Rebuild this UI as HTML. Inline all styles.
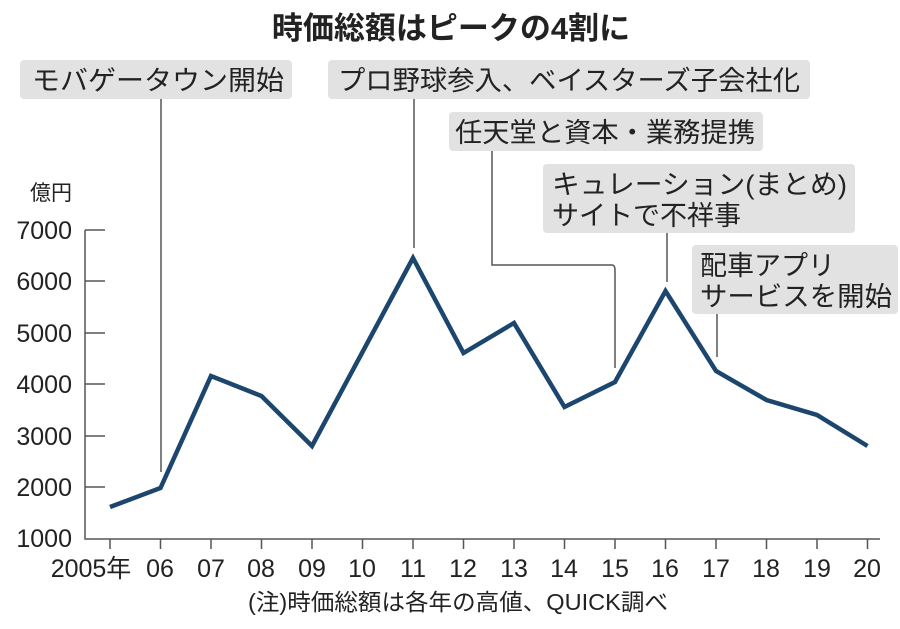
<!DOCTYPE html>
<html><head><meta charset="utf-8"><style>
body{margin:0;background:#fff;}
svg text{font-family:"Liberation Sans","Noto Sans CJK JP",sans-serif;fill:#222;}
</style></head><body>
<svg width="900" height="624" xmlns="http://www.w3.org/2000/svg">
<text x="451" y="39" font-size="31" font-weight="bold" text-anchor="middle">時価総額はピークの4割に</text>
<g fill="#e2e2e2">
<rect x="20" y="60" width="272" height="39" rx="4"/>
<rect x="328" y="60" width="482" height="39" rx="4"/>
<rect x="449" y="112" width="314" height="39" rx="4"/>
<rect x="543" y="164" width="312" height="69" rx="4"/>
<rect x="692" y="245" width="206" height="69" rx="4"/>
</g>
<g font-size="27">
<text x="32" y="90" textLength="252" lengthAdjust="spacingAndGlyphs">モバゲータウン開始</text>
<text x="338" y="90" textLength="462" lengthAdjust="spacingAndGlyphs">プロ野球参入、ベイスターズ子会社化</text>
<text x="455" y="142" textLength="300" lengthAdjust="spacingAndGlyphs">任天堂と資本・業務提携</text>
<text x="552" y="194" textLength="295" lengthAdjust="spacingAndGlyphs">キュレーション(まとめ)</text>
<text x="552" y="225">サイトで不祥事</text>
<text x="700" y="275">配車アプリ</text>
<text x="700" y="306" textLength="192" lengthAdjust="spacingAndGlyphs">サービスを開始</text>
</g>
<g stroke="#555" stroke-width="1.5" fill="none">
<path d="M161 99V472"/>
<path d="M414 99V248"/>
<path d="M492 151V265H612Q615 265 615 270V368"/>
<path d="M667 233V282"/>
<path d="M717 314V357"/>
<path d="M85 230H105M85 281H105M85 333H105M85 384H105M85 436H105M85 487H105"/>
<path d="M85 230V539H880"/>
<path d="M110 539v10M160.5 539v10M211 539v10M261.5 539v10M312 539v10M362.5 539v10M413 539v10M463.5 539v10M514 539v10M564.5 539v10M615 539v10M665.5 539v10M716 539v10M766.5 539v10M817 539v10M867.5 539v10"/>
</g>
<g font-size="25" text-anchor="end">
<text x="72" y="200" font-size="21">億円</text>
<text x="72" y="239">7000</text><text x="72" y="290">6000</text><text x="72" y="342">5000</text>
<text x="72" y="393">4000</text><text x="72" y="445">3000</text><text x="72" y="496">2000</text><text x="72" y="547">1000</text>
</g>
<g font-size="25" text-anchor="middle">
<text x="91" y="577">2005年</text><text x="160" y="577">06</text><text x="211" y="577">07</text><text x="261" y="577">08</text>
<text x="312" y="577">09</text><text x="362" y="577">10</text><text x="413" y="577">11</text><text x="463" y="577">12</text>
<text x="514" y="577">13</text><text x="564" y="577">14</text><text x="615" y="577">15</text><text x="665" y="577">16</text>
<text x="716" y="577">17</text><text x="766" y="577">18</text><text x="817" y="577">19</text><text x="867" y="577">20</text>
</g>
<text x="248" y="610" font-size="23" textLength="420" lengthAdjust="spacingAndGlyphs">(注)時価総額は各年の高値、QUICK調べ</text>
<polyline fill="none" stroke="#1d466e" stroke-width="4.5" points="110,507 160.5,488 211,376 261.5,396 312,446 362.5,352 413,258 463.5,353 514,323 564.5,407 615,382 665.5,291 716,371 766.5,400 817,415 867.5,446"/>
</svg>
</body></html>
